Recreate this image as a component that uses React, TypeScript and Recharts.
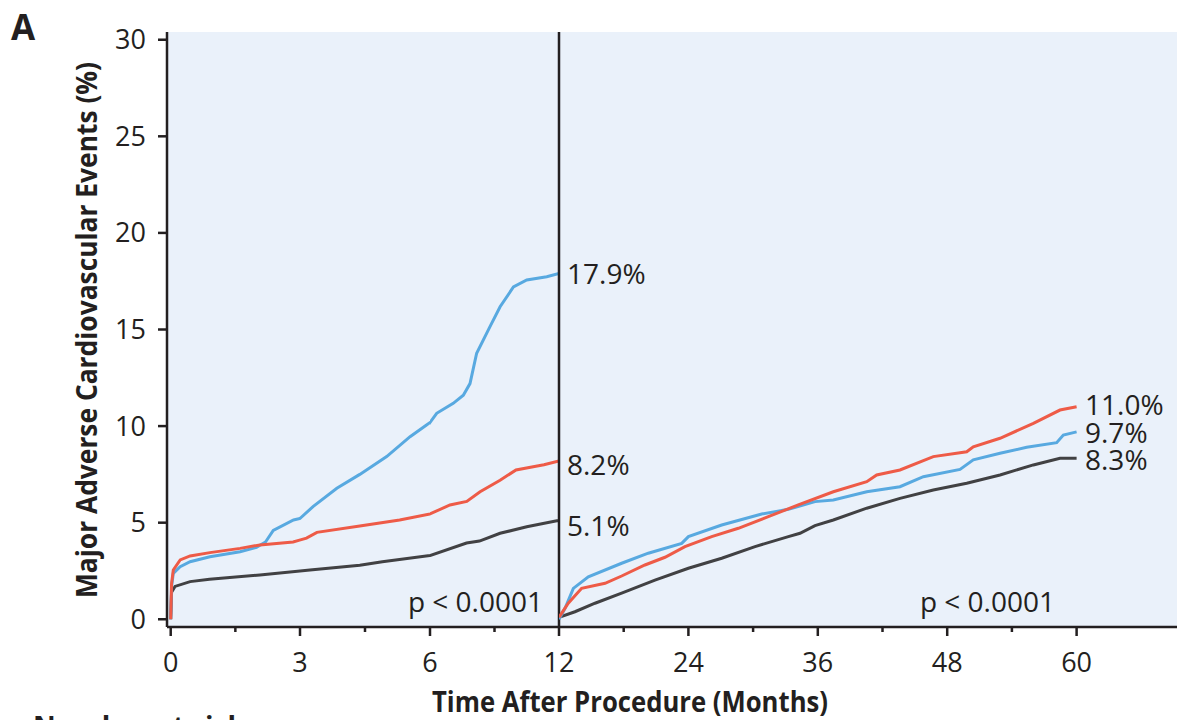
import React from 'react'
import { LineChart, Line, XAxis, YAxis, CartesianGrid, ReferenceLine } from 'recharts'

const INK = '#231F20'
const BLUE = '#58A9E0'
const RED = '#EE5B47'
const GREY = '#414143'
const PANEL_BG = '#EAF1FA'
const FONT = '"Open Sans", "Noto Sans", sans-serif'

// first year after the procedure (months, cumulative MACE %)
const blueYearOneMonths = [0, 0.02, 0.06, 0.22, 0.45, 0.91, 1.61, 1.99, 2.2, 2.38, 2.85, 3.0, 3.3, 3.85, 4.38, 5.0, 5.54, 5.92, 6.31, 7.08, 7.55, 7.86, 8.17, 8.79, 9.26, 9.88, 10.5, 11.43, 12]
const blueYearOne = [0, 1.7, 2.38, 2.72, 2.98, 3.24, 3.5, 3.72, 4.0, 4.6, 5.14, 5.22, 5.83, 6.78, 7.5, 8.42, 9.45, 10.06, 10.66, 11.18, 11.6, 12.2, 13.77, 15.15, 16.18, 17.2, 17.56, 17.73, 17.9]

const redYearOneMonths = [0, 0.02, 0.06, 0.22, 0.45, 0.91, 1.61, 2.07, 2.84, 3.15, 3.39, 4.38, 5.3, 6.0, 6.93, 7.71, 8.33, 9.26, 10.0, 10.8, 11.3, 12]
const redYearOne = [0, 1.85, 2.55, 3.07, 3.28, 3.45, 3.67, 3.85, 4.0, 4.2, 4.5, 4.83, 5.14, 5.45, 5.92, 6.1, 6.6, 7.2, 7.73, 7.9, 8.0, 8.2]

const greyYearOneMonths = [0, 0.02, 0.1, 0.45, 0.9, 2.07, 3.23, 4.38, 4.9, 6.0, 7.7, 8.3, 9.26, 10.5, 11.9, 12]
const greyYearOne = [0, 1.4, 1.7, 1.95, 2.07, 2.29, 2.55, 2.8, 2.98, 3.3, 3.95, 4.05, 4.45, 4.79, 5.1, 5.1]

// landmark analysis, 12 to 60 months
const blueLandmarkMonths = [12, 12.56, 13.33, 14.72, 17.81, 20.28, 23.38, 24.0, 27.09, 30.8, 33.27, 35.74, 37.44, 40.54, 43.62, 45.79, 49.19, 50.42, 52.9, 55.37, 58.15, 58.77, 60]
const blueLandmark = [0, 0.57, 1.6, 2.2, 2.9, 3.42, 3.93, 4.28, 4.88, 5.45, 5.69, 6.09, 6.17, 6.6, 6.86, 7.38, 7.76, 8.25, 8.59, 8.9, 9.14, 9.54, 9.7]

const redLandmarkMonths = [12, 12.86, 14.1, 16.27, 17.81, 19.97, 21.83, 23.68, 26.16, 28.63, 31.41, 34.19, 37.44, 40.54, 41.46, 43.62, 46.71, 49.81, 50.42, 52.9, 55.99, 58.46, 60]
const redLandmark = [0.1, 0.83, 1.6, 1.86, 2.24, 2.81, 3.21, 3.76, 4.28, 4.71, 5.31, 5.92, 6.6, 7.12, 7.47, 7.73, 8.42, 8.67, 8.93, 9.37, 10.14, 10.83, 11.0]

const greyLandmarkMonths = [12, 13.48, 15.34, 17.81, 20.9, 24.0, 27.09, 30.18, 33.27, 34.35, 35.74, 37.44, 40.54, 43.62, 46.71, 49.81, 52.9, 55.99, 58.46, 60]
const greyLandmark = [0.1, 0.39, 0.83, 1.35, 2.03, 2.64, 3.16, 3.76, 4.28, 4.45, 4.85, 5.14, 5.75, 6.26, 6.69, 7.04, 7.47, 7.99, 8.33, 8.33]

const yTicks = [0, 5, 10, 15, 20, 25, 30]
const monthLabels = [0, 3, 6, 12, 24, 36, 48, 60]
const panelTicks = [[0, 1.5, 3], [4.5, 6], [9, 12], [18, 24, 30, 36, 42, 48, 54, 60]]

const toPoints = (ms: number[], vs: number[]) => ms.map((m, i) => ({ m, v: vs[i] }))

const yearOne = [
    { name: 'grey', color: GREY, data: toPoints(greyYearOneMonths, greyYearOne) },
    { name: 'blue', color: BLUE, data: toPoints(blueYearOneMonths, blueYearOne) },
    { name: 'red', color: RED, data: toPoints(redYearOneMonths, redYearOne) },
]
const landmark = [
    { name: 'grey', color: GREY, data: toPoints(greyLandmarkMonths, greyLandmark) },
    { name: 'blue', color: BLUE, data: toPoints(blueLandmarkMonths, blueLandmark) },
    { name: 'red', color: RED, data: toPoints(redLandmarkMonths, redLandmark) },
]

const H = 720
const PLOT_TOP = 32
const X_AXIS_H = 93
const Y_DOMAIN = [-0.4, 30.4]
const PAD = 30

// the month axis is broken into equal-width pieces: 0-3, 3-6, 6-12, 12-60
const panels = [
    { plotLeft: 167, plotWidth: 133, domain: [-0.086, 3], series: yearOne, ticks: panelTicks[0], yAxis: true },
    { plotLeft: 300, plotWidth: 130, domain: [3, 6], series: yearOne, ticks: panelTicks[1], yAxis: false },
    { plotLeft: 430, plotWidth: 129, domain: [6, 12], series: yearOne, ticks: panelTicks[2], yAxis: false },
    { plotLeft: 559, plotWidth: 618, domain: [12, 69.31], series: landmark, ticks: panelTicks[3], yAxis: false, divider: true },
]

function MonthTick(props: any) {
    const { x, y, payload } = props
    const major = monthLabels.includes(payload.value)
    return (
        <g>
            <line x1={x} x2={x} y1={y} y2={y + (major ? 9 : 5)} stroke={INK} strokeWidth={2.5} />
            {major && (
                <text x={x} y={y + 45} textAnchor="middle" fill={INK} fontSize={27}>
                    {payload.value}
                </text>
            )}
        </g>
    )
}

function Panel({ p }: { p: any }) {
    const left = p.yAxis ? 0 : p.plotLeft - PAD
    const width = p.yAxis ? p.plotLeft + p.plotWidth + PAD : p.plotWidth + 2 * PAD
    return (
        <div style={{ position: 'absolute', left, top: 0 }}>
            <LineChart
                width={width}
                height={H}
                margin={{ top: PLOT_TOP, right: PAD, bottom: 0, left: p.yAxis ? 0 : PAD }}
            >
                <CartesianGrid fill={PANEL_BG} horizontal={false} vertical={false} />
                <XAxis
                    type="number"
                    dataKey="m"
                    domain={p.domain}
                    allowDataOverflow
                    ticks={p.ticks}
                    interval={0}
                    height={X_AXIS_H}
                    tickLine={false}
                    tickSize={0}
                    tickMargin={0}
                    tick={(t: any) => <MonthTick {...t} />}
                    axisLine={{ stroke: INK, strokeWidth: 2.5 }}
                />
                {p.yAxis ? (
                    <YAxis
                        type="number"
                        domain={Y_DOMAIN}
                        allowDataOverflow
                        ticks={yTicks}
                        interval={0}
                        width={p.plotLeft}
                        tickSize={9}
                        tickMargin={12}
                        tick={{ fill: INK, fontSize: 27 }}
                        tickLine={{ stroke: INK, strokeWidth: 2.5 }}
                        axisLine={{ stroke: INK, strokeWidth: 2.5 }}
                    />
                ) : (
                    <YAxis hide type="number" domain={Y_DOMAIN} allowDataOverflow />
                )}
                {p.divider && <ReferenceLine x={12} stroke={INK} strokeWidth={2.5} />}
                {p.series.map((s: any) => (
                    <Line
                        key={s.name}
                        data={s.data}
                        dataKey="v"
                        type="linear"
                        stroke={s.color}
                        strokeWidth={3}
                        dot={false}
                        activeDot={false}
                        isAnimationActive={false}
                    />
                ))}
            </LineChart>
        </div>
    )
}

export default function App() {
    return (
        <div
            style={{
                position: 'absolute',
                left: 0,
                top: 0,
                width: 1177,
                height: H,
                overflow: 'hidden',
                background: '#fff',
                fontFamily: FONT,
                color: INK,
            }}
        >
            {panels.map((p, i) => (
                <Panel key={i} p={p} />
            ))}
            <svg
                width={1177}
                height={H}
                style={{ position: 'absolute', left: 0, top: 0, pointerEvents: 'none' }}
                fontFamily={FONT}
                fill={INK}
            >
                <text x={11} y={40} fontSize={35} fontWeight={700}>A</text>
                <text
                    transform="translate(97,330) rotate(-90)"
                    textAnchor="middle"
                    fontSize={28}
                    fontWeight={700}
                    textLength={536}
                    lengthAdjust="spacingAndGlyphs"
                >
                    Major Adverse Cardiovascular Events (%)
                </text>
                <text x={630} y={712} textAnchor="middle" fontSize={29} fontWeight={700} textLength={396} lengthAdjust="spacingAndGlyphs">
                    Time After Procedure (Months)
                </text>
                <text x={567} y={284} fontSize={28}>17.9%</text>
                <text x={567} y={475} fontSize={28}>8.2%</text>
                <text x={567} y={536} fontSize={28}>5.1%</text>
                <text x={1085} y={415} fontSize={28}>11.0%</text>
                <text x={1085} y={443} fontSize={28}>9.7%</text>
                <text x={1085} y={470} fontSize={28}>8.3%</text>
                <text x={543} y={612} fontSize={28} textAnchor="end">p &lt; 0.0001</text>
                <text x={1055} y={612} fontSize={28} textAnchor="end">p &lt; 0.0001</text>
                <text x={33} y={737} fontSize={28} fontWeight={700}>Number at risk</text>
            </svg>
        </div>
    )
}
